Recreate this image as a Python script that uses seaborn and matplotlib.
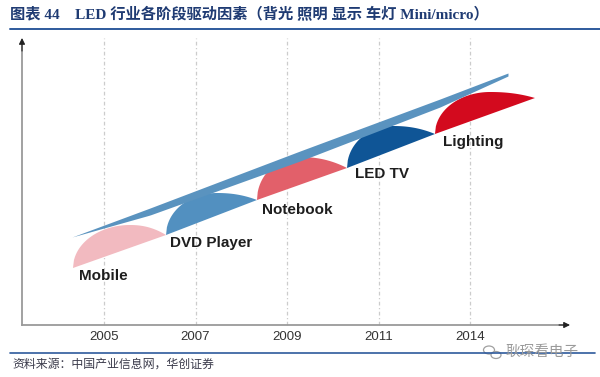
import numpy as np
import matplotlib
matplotlib.use("Agg")
import matplotlib.pyplot as plt
from matplotlib.lines import Line2D
from matplotlib.patches import Ellipse
import seaborn as sns

# ---------------- data ----------------
years = ["2005", "2007", "2009", "2011", "2014"]
stage_names = ["Mobile", "DVD Player", "Notebook", "LED TV", "Lighting"]
stage_start = [-0.339, 0.678, 1.672, 2.656, 3.617]
stage_end = [0.678, 1.672, 2.656, 3.617, 4.710]
base_start = [57, 90, 125, 157, 191]
base_end = [90, 125, 157, 191, 227]
peak_x = [0.284, 1.235, 2.142, 3.158, 4.219]
peak_y = [100, 132, 168, 199, 233]
stage_colors = ["#F2BAC0", "#5290C0", "#E2606A", "#0F5596", "#D30A1E"]
label_x = [-0.011, 1.175, 2.109, 3.038, 4.033]
label_y = [49, 82, 115, 151, 183]

band_x = [-0.350, 0.503, 2.142, 3.672, 4.415]
band_top = [88, 117, 174, 226, 252]
band_bot = [88, 110, 164, 218, 249]

title = "图表 44    LED 行业各阶段驱动因素（背光 照明 显示 车灯 Mini/micro）"
source = "资料来源：中国产业信息网，华创证券"
watermark = "耿琛看电子"

# ---------------- style ----------------
sns.set_theme(style="white")
plt.rcParams["font.family"] = ["Liberation Sans", "Noto Sans CJK SC", "DejaVu Sans"]

W, H = 600, 377
fig = plt.figure(figsize=(6.0, 3.77), dpi=100)
fig.patch.set_facecolor("white")

# axes: px = 104 + 91.5*x ; py = 325 - y
ax = fig.add_axes([0, 32 / H, 1, 310 / H])
ax.set_xlim(-104 / 91.5, 496 / 91.5)
ax.set_ylim(-20, 290)
ax.set_facecolor("none")

y_axis_x = (22 - 104) / 91.5
x_arrow_end = (570 - 104) / 91.5

for s in ["top", "right"]:
    ax.spines[s].set_visible(False)
ax.spines["bottom"].set_position(("data", 0))
ax.spines["left"].set_position(("data", y_axis_x))
ax.spines["bottom"].set_bounds(y_axis_x, x_arrow_end - 0.05)
ax.spines["left"].set_bounds(0, 280)
for s in ["bottom", "left"]:
    ax.spines[s].set_color("#9a9a9a")
    ax.spines[s].set_linewidth(1.3)

ax.annotate("", xy=(x_arrow_end, 0), xytext=(x_arrow_end - 0.12, 0),
            arrowprops=dict(arrowstyle="-|>", color="#222222", lw=0.8,
                            mutation_scale=9, shrinkA=0, shrinkB=0))
ax.annotate("", xy=(y_axis_x, 287), xytext=(y_axis_x, 274),
            arrowprops=dict(arrowstyle="-|>", color="#222222", lw=0.8,
                            mutation_scale=9, shrinkA=0, shrinkB=0))

ax.set_xticks(range(len(years)))
ax.set_xticklabels(years, fontsize=9.5, color="#333333")
ax.tick_params(axis="x", length=0, pad=4)
ax.set_yticks([])

# dashed verticals
ax.vlines(range(len(years)), 0, 287, colors="#cccccc",
          linestyles=(0, (3, 2, 1, 2)), linewidth=0.9, zorder=1)

# humps
for i in range(len(stage_names)):
    x0, x1, xp = stage_start[i], stage_end[i], peak_x[i]
    b0, b1, yp = base_start[i], base_end[i], peak_y[i]
    xl = np.linspace(x0, xp, 60)
    u = (xp - xl) / (xp - x0)
    yl = yp - (yp - b0) * (1 - np.sqrt(np.clip(1 - u ** 2, 0, 1)))
    xr = np.linspace(xp, x1, 60)
    v = (xr - xp) / (x1 - xp)
    yr = yp - (yp - b1) * v ** 2.2
    xs = np.concatenate([xl, xr, [x0]])
    ys = np.concatenate([yl, yr, [b0]])
    ax.fill(xs, ys, color=stage_colors[i], lw=0, zorder=2)
    ax.text(label_x[i], label_y[i], stage_names[i], ha="center", va="center",
            fontsize=11, fontweight="bold", color="#1e1e1e", zorder=4)

# blue band
bx = np.linspace(band_x[0], band_x[-1], 200)
bt = np.interp(bx, band_x, band_top)
bb = np.interp(bx, band_x, band_bot)
ax.fill_between(bx, bb, bt, color="#5A93BF", lw=0, zorder=3)

# ---------------- figure-level text ----------------
fig.text(10 / W, 1 - 15 / H, title, ha="left", va="center", fontsize=11,
         fontweight="bold", color="#1F3B73",
         family=["Liberation Serif", "Noto Sans CJK SC"])
fig.add_artist(Line2D([10 / W, 1.0], [1 - 29 / H, 1 - 29 / H],
                      color="#2E5A9C", lw=1.4))
fig.add_artist(Line2D([10 / W, 595 / W], [1 - 353 / H, 1 - 353 / H],
                      color="#2E5A9C", lw=1.2))
fig.text(12 / W, 1 - 364 / H, source, ha="left", va="center", fontsize=8.6,
         color="#3a3a4a", family=["Noto Sans CJK SC", "DejaVu Sans"])
fig.text(505 / W, 1 - 352 / H, watermark, ha="left", va="center", fontsize=10.5,
         color="#9a9a9a", family=["Noto Sans CJK SC", "DejaVu Sans"])
# small wechat-like icon
fig.add_artist(Ellipse((489 / W, 1 - 350 / H), 11 / W, 8 / H,
                       transform=fig.transFigure, fill=False, ec="#a0a0a0", lw=0.9))
fig.add_artist(Ellipse((496 / W, 1 - 355 / H), 10 / W, 7 / H,
                       transform=fig.transFigure, fc="white", ec="#a0a0a0", lw=0.9))

fig.savefig("out.png", dpi=100)
